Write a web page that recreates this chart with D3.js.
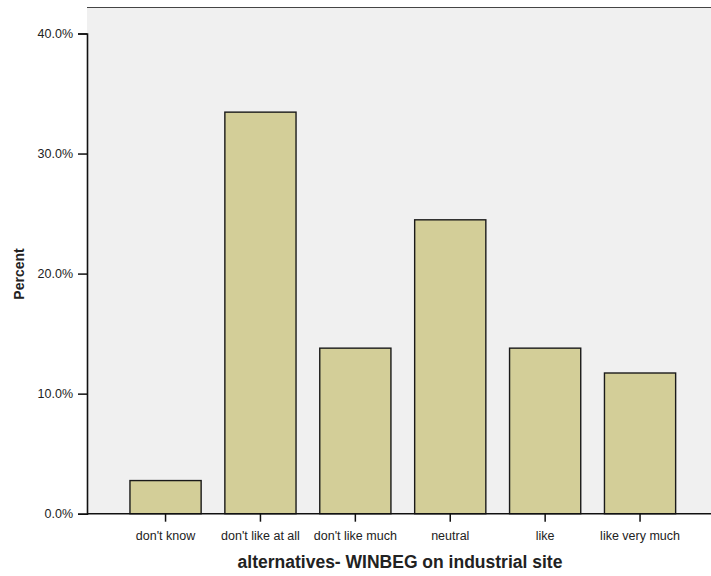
<!DOCTYPE html>
<html>
<head>
<meta charset="utf-8">
<script src="https://cdn.jsdelivr.net/npm/d3@7"></script>
<style>
  html, body { margin: 0; padding: 0; background: #fff; }
  svg { display: block; }
  text { font-family: "Liberation Sans", Arial, sans-serif; fill: #222; }
</style>
</head>
<body>
<svg id="chart" width="711" height="576"></svg>
<script>
const categories = ["don't know", "don't like at all", "don't like much", "neutral", "like", "like very much"];
const percents = [2.76, 33.45, 13.79, 24.48, 13.79, 11.72];
const yTicks = [0, 10, 20, 30, 40];
const xTitle = "alternatives- WINBEG on industrial site";
const yTitle = "Percent";

(function () {
const svg = d3.select("#chart");
const plotLeft = 87, plotRight = 711, plotTop = 7.5, plotBottom = 513.7;

const y = d3.scaleLinear().domain([0, 40]).range([plotBottom, 33.5]);
const x = d3.scaleBand().domain(categories).range([118.1, 687.5]).paddingInner(0.25).paddingOuter(0.125);

// plot background
svg.append("rect").attr("x", plotLeft).attr("y", plotTop).attr("width", plotRight - plotLeft).attr("height", plotBottom - plotTop)
  .attr("fill", "#f0f0f0");
// top border
svg.append("line").attr("x1", plotLeft).attr("x2", plotRight).attr("y1", plotTop).attr("y2", plotTop)
  .attr("stroke", "#444").attr("stroke-width", 1);

// bars
svg.append("g").selectAll("rect").data(categories).join("rect")
  .attr("x", d => x(d))
  .attr("y", (d, i) => y(percents[i]))
  .attr("width", x.bandwidth())
  .attr("height", (d, i) => y(0) - y(percents[i]))
  .attr("fill", "#d3ce98")
  .attr("stroke", "#1a1a1a")
  .attr("stroke-width", 1.4);

// y axis
const yAxis = d3.axisLeft(y).tickValues(yTicks).tickSize(9).tickPadding(5).tickFormat(d => d.toFixed(1) + "%");
const gy = svg.append("g").attr("transform", `translate(${plotLeft},0)`).call(yAxis);
gy.select(".domain").attr("stroke", "#111").attr("stroke-width", 1.6);
gy.selectAll(".tick line").attr("stroke", "#111").attr("stroke-width", 1.5);
gy.selectAll(".tick text").style("font-size", "12.5px").style("font-family", "Liberation Sans, Arial, sans-serif").attr("fill", "#222");

// x axis
const xAxis = d3.axisBottom(x).tickSize(8).tickPadding(9).tickSizeOuter(0);
const gx = svg.append("g").attr("transform", `translate(0,${plotBottom})`).call(xAxis);
gx.select(".domain").attr("d", `M${plotLeft},0H${plotRight}`).attr("stroke", "#111").attr("stroke-width", 1.6);
gx.selectAll(".tick line").attr("stroke", "#111").attr("stroke-width", 1.5);
gx.selectAll(".tick text").style("font-size", "12.5px").style("font-family", "Liberation Sans, Arial, sans-serif").attr("fill", "#222");

// titles
svg.append("text").attr("x", 400).attr("y", 568).attr("text-anchor", "middle")
  .style("font-size", "17.5px").style("font-weight", "bold").text(xTitle);
svg.append("text").attr("transform", "translate(24,274) rotate(-90)").attr("text-anchor", "middle")
  .style("font-size", "14px").style("font-weight", "bold").text(yTitle);
})();
</script>
</body>
</html>
